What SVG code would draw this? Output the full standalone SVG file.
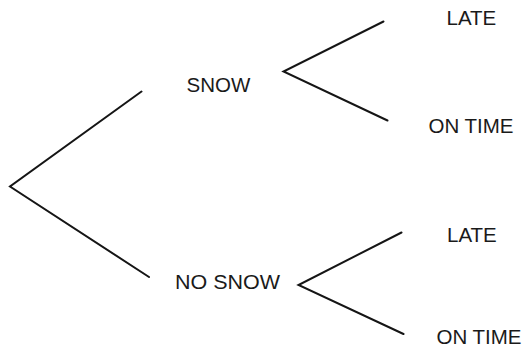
<svg xmlns="http://www.w3.org/2000/svg" width="522" height="354" viewBox="0 0 522 354">
<style>
.ln{stroke:#151515;stroke-width:2;fill:none;stroke-linecap:round;stroke-linejoin:miter}
.t{font-family:"Liberation Sans",Arial,sans-serif;font-size:20.5px;fill:#1a1a1a}
</style>
<rect width="522" height="354" fill="#fff"/>
<g id="connectors">
<polyline class="ln" points="141.5,91.5 10,186.5 149,277"/>
<polyline class="ln" points="383.5,21.5 283.5,71.5 387.5,120.5"/>
<polyline class="ln" points="401.5,232.5 298.5,285 403.5,334"/>
</g>
<g id="snow"><text class="t" x="186.5" y="91.5">SNOW</text></g>
<g id="nosnow"><text class="t" x="175" y="288.5" textLength="105" lengthAdjust="spacingAndGlyphs">NO SNOW</text></g>
<g id="snow-late"><text class="t" x="446.5" y="25">LATE</text></g>
<g id="snow-ontime"><text class="t" x="428.5" y="132.5">ON TIME</text></g>
<g id="nosnow-late"><text class="t" x="447" y="241.5">LATE</text></g>
<g id="nosnow-ontime"><text class="t" x="436.5" y="343.5">ON TIME</text></g>
</svg>
